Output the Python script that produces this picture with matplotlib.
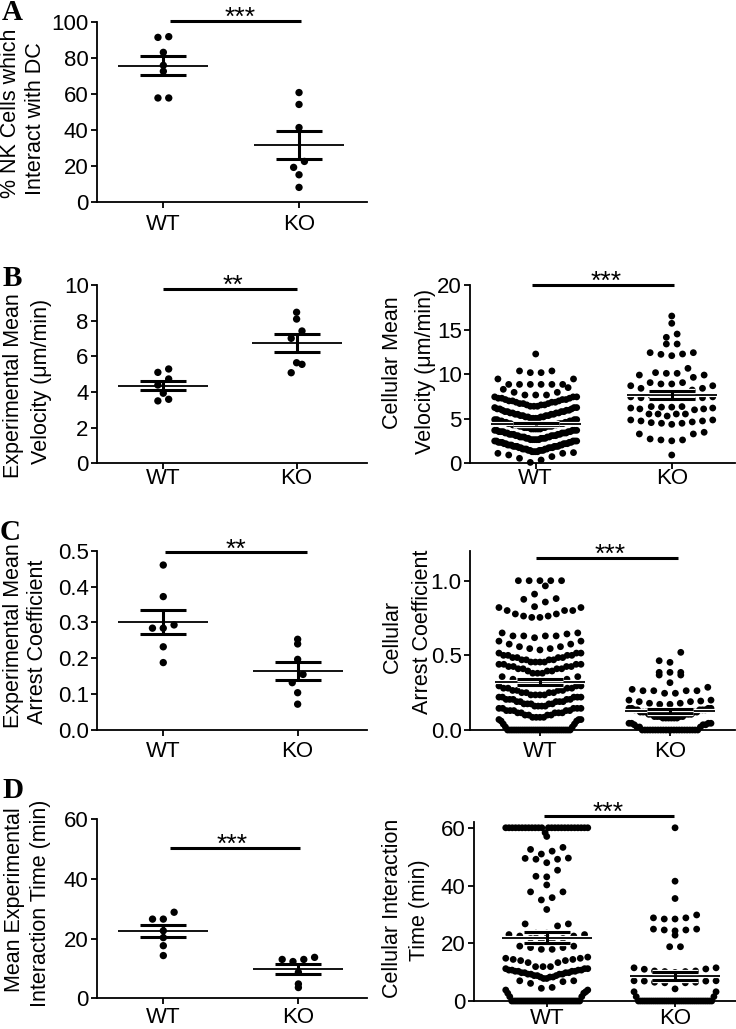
import numpy as np
import matplotlib
matplotlib.use('Agg')
import matplotlib.pyplot as plt
import matplotlib.patheffects as pe
import matplotlib.transforms as mtrans
from matplotlib.ticker import FormatStrFormatter

plt.rcParams['font.family'] = ['Liberation Sans', 'DejaVu Sans']

groups = ['WT', 'KO']

# ---------------- data ----------------
# A: % NK cells which interact with DC (per experiment)
a_wt = [91.7, 91.3, 83.0, 75.8, 72.5, 57.7, 57.7]
a_ko = [60.7, 54.1, 41.3, 22.5, 19.2, 15.1, 8.1]

# B left: experimental mean velocity (um/min)
b_wt = [5.10, 5.29, 4.73, 4.39, 3.93, 3.50, 3.59]
b_ko = [8.47, 8.09, 7.42, 7.01, 5.64, 5.55, 5.08]

# B right: cellular mean velocity (value levels and number of cells at each)
bc_wt_levels = [0.1, 0.37, 0.56, 0.75, 0.93, 1.12, 1.2,
                1.3, 1.45, 1.6, 1.75, 1.9, 2.05, 2.2, 2.35, 2.5, 2.65, 2.8, 2.95,
                3.1, 3.25, 3.4, 3.55, 3.7, 3.85, 4.0, 4.15, 4.3, 4.45, 4.6, 4.75,
                4.9, 5.05, 5.2, 5.35, 5.5, 5.65, 5.8, 5.95, 6.1, 6.25, 6.4, 6.55,
                6.7, 6.85, 7.0, 7.15, 7.3, 7.45,
                7.66, 7.96, 8.3, 8.49, 8.85, 9.46, 10.17, 10.36, 12.26]
bc_wt_counts = [1, 1, 1, 1, 1, 2, 1,
                4, 5, 5, 5, 6, 5, 5, 5, 5, 5, 5, 5,
                5, 5, 5, 5, 5, 5, 5, 5, 5, 5, 4, 4,
                4, 4, 4, 4, 4, 4, 4, 3, 3, 3, 3, 3,
                3, 3, 3, 3, 3, 3,
                3, 2, 1, 1, 6, 2, 2, 2, 1]
bc_ko_levels = [0.93, 2.52, 2.62, 2.73, 3.29, 3.48,
                4.37, 4.49, 4.56, 4.64, 4.75, 4.86, 5.3, 5.53,
                6.0, 6.1, 6.2, 6.3, 6.36, 7.29, 7.35, 7.45, 7.55,
                8.22, 8.41, 8.7, 8.9, 9.05, 9.64, 9.9, 10.09, 10.17, 10.65,
                12.07, 12.22, 12.26, 12.41, 13.38, 14.13, 14.5, 15.7, 16.52]
bc_ko_counts = [1, 1, 2, 1, 2, 1,
                1, 2, 1, 1, 2, 2, 1, 4,
                1, 2, 2, 2, 2, 1, 2, 2, 4,
                1, 2, 2, 2, 2, 1, 2, 2, 1, 1,
                1, 1, 1, 2, 2, 1, 1, 1, 1]

# C left: experimental mean arrest coefficient
c_wt = [0.460, 0.372, 0.293, 0.284, 0.284, 0.232, 0.188]
c_ko = [0.253, 0.240, 0.197, 0.155, 0.132, 0.104, 0.072]

# C right: cellular arrest coefficient
cc_wt_levels = [0.0, 0.02, 0.04, 0.06, 0.07,
                0.085, 0.10, 0.115, 0.13, 0.145, 0.16, 0.175, 0.19, 0.205,
                0.22, 0.235, 0.25, 0.265, 0.28, 0.295,
                0.31, 0.325, 0.34, 0.357,
                0.38, 0.395, 0.41, 0.425, 0.44, 0.455, 0.47, 0.485, 0.50, 0.515,
                0.536, 0.545, 0.558, 0.575, 0.595, 0.618, 0.63, 0.643, 0.65,
                0.754, 0.763, 0.777, 0.80, 0.82,
                0.826, 0.857, 0.875, 0.88, 0.91, 0.965, 1.0]
cc_wt_counts = [30, 2, 2, 2, 3,
                4, 4, 5, 5, 5, 4, 5, 5, 5,
                5, 4, 4, 4, 4, 3,
                2, 2, 2, 2,
                3, 3, 4, 4, 4, 4, 4, 4, 4, 3,
                1, 2, 2, 2, 2, 1, 4, 1, 2,
                2, 2, 2, 3, 2,
                1, 1, 1, 1, 1, 1, 5]
cc_ko_levels = [0.0, 0.02, 0.035, 0.045,
                0.08, 0.09, 0.105, 0.12, 0.135, 0.145,
                0.172, 0.179, 0.19, 0.194, 0.2,
                0.246, 0.263, 0.272, 0.286,
                0.317, 0.368, 0.386, 0.453, 0.464, 0.52]
cc_ko_counts = [22, 3, 3, 4,
                6, 5, 5, 5, 5, 4,
                2, 2, 2, 1, 2,
                2, 4, 1, 1,
                1, 2, 3, 1, 1, 1]

# D left: mean experimental interaction time (min)
d_wt = [28.8, 26.5, 26.5, 22.6, 20.3, 17.6, 14.3]
d_ko = [13.7, 13.0, 13.0, 12.3, 8.7, 4.8, 3.6]

# D right: cellular interaction time (min)
dc_wt_levels = [0.0, 1.5, 2.7, 3.2, 3.8, 4.4, 4.7, 6.1, 6.7, 7.0,
                7.8, 8.3, 8.8, 9.3, 9.8, 10.3, 10.7, 11.2, 11.9,
                13.3, 14.0, 14.4, 14.8, 15.2, 17.9, 18.5, 19.0,
                21.0, 21.7, 22.5, 23.0, 23.5, 26.0, 26.7,
                31.7, 35.0, 35.8, 37.8, 40.2, 43.0, 43.2, 45.3, 47.9, 49.1,
                49.4, 49.5, 50.9, 51.9, 52.5, 53.2, 57.0, 58.3, 60.0]
dc_wt_counts = [35, 2, 2, 1, 2, 1, 1, 1, 1, 2,
                2, 3, 3, 4, 4, 4, 4, 3, 3,
                2, 2, 2, 2, 1, 2, 2, 2,
                2, 2, 2, 2, 2, 1, 2,
                1, 1, 1, 2, 1, 1, 1, 1, 1, 2,
                1, 1, 1, 1, 1, 1, 1, 1, 25]
dc_ko_levels = [0.0, 1.5, 3.2, 4.2, 6.3, 6.5, 6.9, 7.0,
                9.9, 10.2, 10.4, 11.0, 11.1, 11.5,
                18.8, 22.8, 24.3, 24.6, 24.9, 28.4, 28.8, 29.8,
                35.5, 41.5, 60.0]
dc_ko_counts = [35, 2, 2, 1, 2, 2, 2, 2,
                1, 2, 2, 1, 1, 2,
                2, 1, 1, 2, 2, 2, 2, 1,
                1, 1, 1]


def expand(levels, counts):
    return np.repeat(np.asarray(levels, float), counts)


# ---------------- layout ----------------
W_PX, H_PX = 736, 1029
fig = plt.figure(figsize=(W_PX / 100, H_PX / 100), dpi=100)


def add_axes_px(left, right, top, bottom):
    return fig.add_axes([left / W_PX, 1 - bottom / H_PX,
                         (right - left) / W_PX, (bottom - top) / H_PX])


def px_per_unit_x(ax):
    t = ax.transData
    return t.transform((1, 0))[0] - t.transform((0, 0))[0]


def row_swarm_x(ax, xc, values, h=11.15, s0=10.8, W=41.0):
    """Prism-style scatter: values are grouped in horizontal rows of height h
    (pixels); inside a row the lowest value sits in the middle and the others
    alternate outwards; crowded rows are squeezed to the maximum width W."""
    vals = np.asarray(values, float)
    t = ax.transData
    y0 = t.transform((xc, 0))[1]
    ypx = t.transform(np.column_stack([np.full(len(vals), xc), vals]))[:, 1] - y0
    bins = np.floor(ypx / h + 1e-9).astype(int)
    xoff = np.zeros(len(vals))
    for b in np.unique(bins):
        idx = np.where(bins == b)[0]
        idx = idx[np.argsort(vals[idx], kind='stable')]
        n = len(idx)
        s = s0 if (n - 1) * s0 <= 2 * W else 2 * W / (n - 1)
        pos = (np.arange(n) - (n - 1) / 2) * s
        order = sorted(range(n), key=lambda k: (round(abs(pos[k]), 6), pos[k]))
        xoff[idx] = pos[order]
    return xc + xoff / px_per_unit_x(ax)


def draw_stats(ax, xc, vals, halo):
    vals = np.asarray(vals, float)
    m = vals.mean()
    se = vals.std(ddof=1) / np.sqrt(len(vals))
    u = px_per_unit_x(ax)
    hw_m, hw_s = 45 / u, 23 / u
    eff = ([pe.Stroke(linewidth=3.0, foreground='white'), pe.Normal()]
           if halo else None)
    eff2 = ([pe.Stroke(linewidth=3.8, foreground='white'), pe.Normal()]
            if halo else None)
    kw = dict(color='black', solid_capstyle='butt', zorder=4, clip_on=False)
    ax.plot([xc - hw_m, xc + hw_m], [m, m], lw=1.3, path_effects=eff, **kw)
    for yy in (m - se, m + se):
        ax.plot([xc - hw_s, xc + hw_s], [yy, yy], lw=2.2, path_effects=eff2, **kw)
    ax.plot([xc, xc], [m - se, m + se], lw=2.2, **kw)


panels = [
    dict(letter='A', letter_px=(12, 12), box=(97, 367, 21.7, 202.0), xpad=4.4,
         xlim=(-0.489, 1.501), ylim=(0, 100), yticks=[0, 20, 40, 60, 80, 100], fmt=None,
         data=(a_wt, a_ko), cell=False,
         labels=[('% NK Cells which', 11, 113), ('Interact with DC', 36, 119)],
         sig=('***', 0.05, 1.015, 100.5, 0.566)),
    dict(letter='B', letter_px=(12, 278), box=(97, 367, 285.0, 463.3), xpad=-0.3,
         xlim=(-0.497, 1.528), ylim=(0, 10), yticks=[0, 2, 4, 6, 8, 10], fmt=None,
         data=(b_wt, b_ko), cell=False,
         labels=[('Experimental Mean', 14, 386), ('Velocity (\u03bcm/min)', 42, 381)],
         sig=('**', 0.0, 1.0, 9.76, 0.52)),
    dict(letter=None, box=(470, 735, 285.0, 463.3), xpad=-0.3,
         xlim=(-0.483, 1.465), ylim=(0, 20), yticks=[0, 5, 10, 15, 20], fmt=None,
         data=(expand(bc_wt_levels, bc_wt_counts), expand(bc_ko_levels, bc_ko_counts)),
         cell=True,
         labels=[('Cellular Mean', 393, 363), ('Velocity (\u03bcm/min)', 425, 371)],
         sig=('***', -0.03, 1.02, 20.0, 0.52)),
    dict(letter='C', letter_px=(10, 532), box=(97, 367, 550.7, 730.0), xpad=3.9,
         xlim=(-0.493, 1.516), ylim=(0, 0.5), yticks=[0, 0.1, 0.2, 0.3, 0.4, 0.5], fmt='%.1f',
         data=(c_wt, c_ko), cell=False,
         labels=[('Experimental Mean', 14, 636), ('Arrest Coefficient', 38, 642)],
         sig=('**', 0.01, 1.07, 0.495, 0.54)),
    dict(letter=None, box=(470, 735, 550.8, 730.0), xpad=3.9,
         xlim=(-0.538, 1.5), ylim=(0, 1.2), yticks=[0, 0.5, 1.0], fmt='%.1f',
         data=(expand(cc_wt_levels, cc_wt_counts), expand(cc_ko_levels, cc_ko_counts)),
         cell=True,
         labels=[('Cellular', 392, 636), ('Arrest Coefficient', 422, 632)],
         sig=('***', -0.03, 1.06, 1.15, 0.54)),
    dict(letter='D', letter_px=(13, 790), box=(97, 367, 819.0, 998.3), xpad=2.4,
         xlim=(-0.491, 1.508), ylim=(0, 60), yticks=[0, 20, 40, 60], fmt=None,
         data=(d_wt, d_ko), cell=False,
         labels=[('Mean Experimental', 15, 900), ('Interaction Time (min)', 41, 903)],
         sig=('***', 0.05, 1.01, 50.2, 0.51)),
    dict(letter=None, box=(474, 736, 822.0, 1001.0), xpad=0.7,
         xlim=(-0.567, 1.475), ylim=(0, 62), yticks=[0, 20, 40, 60], fmt=None,
         data=(expand(dc_wt_levels, dc_wt_counts), expand(dc_ko_levels, dc_ko_counts)),
         cell=True,
         labels=[('Cellular Interaction', 392, 908), ('Time (min)', 420, 910)],
         sig=('***', -0.02, 0.99, 64.0, 0.48)),
]

for p in panels:
    ax = add_axes_px(*p['box'])
    ax.set_xlim(*p['xlim'])
    ax.set_ylim(*p['ylim'])
    ax.set_yticks(p['yticks'])
    if p['fmt']:
        ax.yaxis.set_major_formatter(FormatStrFormatter(p['fmt']))
    ax.set_xticks([0, 1])
    ax.set_xticklabels(groups)
    for s in ('top', 'right'):
        ax.spines[s].set_visible(False)
    for s in ('left', 'bottom'):
        ax.spines[s].set_linewidth(1.3)
    ax.tick_params(axis='both', direction='out', length=4, width=1.3, labelsize=16)
    ax.tick_params(axis='y', pad=2)
    ax.tick_params(axis='x', pad=p['xpad'])
    ax.patch.set_alpha(0)

    s = 24 if p['cell'] else 28
    for xc, vals in zip([0, 1], p['data']):
        xs = row_swarm_x(ax, xc, vals)
        ax.scatter(xs, vals, s=s, color='black', edgecolors='none',
                   zorder=3, clip_on=False)
        draw_stats(ax, xc, vals, halo=p['cell'])

    stars, x1, x2, yb, xs_ = p['sig']
    ax.plot([x1, x2], [yb, yb], color='black', lw=2.2, solid_capstyle='butt',
            clip_on=False, zorder=5)
    tr = mtrans.offset_copy(ax.transData, fig=fig, x=0, y=-4, units='dots')
    ax.text(xs_, yb, stars, transform=tr, ha='center', va='baseline',
            fontsize=19, clip_on=False)

    for text, xpx, ypx in p['labels']:
        fig.text(xpx / W_PX, 1 - ypx / H_PX, text, rotation=90,
                 ha='center', va='center', fontsize=15.5)
    if p['letter']:
        lx, ly = p['letter_px']
        fig.text(lx / W_PX, 1 - ly / H_PX, p['letter'],
                 family=['Liberation Serif', 'DejaVu Serif'], fontweight='bold',
                 fontsize=21, ha='center', va='center')

fig.savefig('out.png', dpi=100)
